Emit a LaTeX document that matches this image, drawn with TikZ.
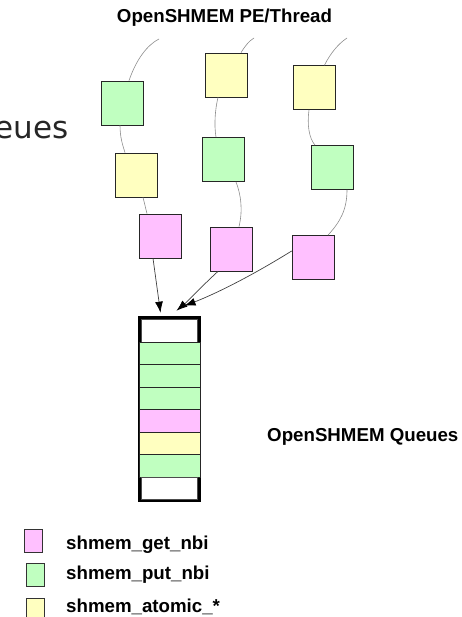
\documentclass[tikz,border=0pt]{standalone}
\usepackage{fontspec}
\setmainfont{Liberation Sans}
\newfontfamily\slidefont{DejaVu Sans}
\usetikzlibrary{arrows.meta}

\definecolor{getpink}{HTML}{FFC0FF}
\definecolor{putgreen}{HTML}{C0FFC0}
\definecolor{amoyellow}{HTML}{FFFFC0}

\tikzset{
	op/.style={draw=black!85, line width=0.7pt, minimum width=42pt, minimum height=44pt, inner sep=0pt},
	key/.style={draw=black!80, line width=0.7pt, minimum width=18pt, minimum height=23pt, inner sep=0pt},
	thread/.style={draw=black!45, line width=0.6pt},
	feed/.style={draw=black!75, line width=0.7pt, -{Latex[length=11pt,width=8pt,black]}},
	lbl/.style={font=\bfseries\fontsize{18.7}{21}\selectfont, inner sep=0pt},
}

\begin{document}
\begin{tikzpicture}[x=1pt, y=-1pt]
		%%%%% START %%%%%
		\useasboundingbox (0,0) rectangle (462,617);
		
		\node[lbl] (title) at (224.5,18) {OpenSHMEM PE/Thread};
		\node[font=\slidefont\fontsize{31}{34}\selectfont, anchor=base east, inner sep=0pt, text=black!85] (slide) at (69,139) {eues};
		
		% three threads, each issuing its operations
		\node[op, fill=putgreen] (g1) at (122.5,103) {};
		\node[op, fill=amoyellow] (y1) at (136,175) {};
		\node[op, fill=getpink] (p1) at (160,236) {};
		
		\node[op, fill=amoyellow] (y2) at (226,75) {};
		\node[op, fill=putgreen] (g2) at (223,159.5) {};
		\node[op, fill=getpink] (p2) at (231,249) {};
		
		\node[op, fill=amoyellow] (y3) at (314.5,87.5) {};
		\node[op, fill=putgreen] (g3) at (332.5,167.5) {};
		\node[op, fill=getpink] (p3) at (313,257.5) {};
		
		\coordinate (top1) at (159,39);
		\coordinate (top2) at (254,38);
		\coordinate (top3) at (347,38);
		
		\draw[thread] ([xshift=6.5pt]g1.north) .. controls (136,60) and (147,45) .. (top1);
		\draw[thread] ([xshift=15pt]y2.north) .. controls (245,46) and (249,41) .. (top2);
		\draw[thread] ([xshift=10pt]y3.north) .. controls (330,54) and (338,44) .. (top3);
		
		\draw[thread] ([xshift=-2.5pt]g1.south) .. controls (120,138) and (123,146) .. ([xshift=-11pt]y1.north);
		\draw[thread] ([xshift=7pt]y1.south) -- ([xshift=-13pt]p1.north);
		
		\draw[thread] ([xshift=-8pt]y2.south) .. controls (215,110) and (214,125) .. ([xshift=-7pt]g2.north);
		\draw[thread] ([xshift=13pt]g2.south) .. controls (241,195) and (243,210) .. ([xshift=8pt]p2.north);
		
		\draw[thread] ([xshift=-5.5pt]y3.south) .. controls (307,125) and (309,138) .. ([xshift=-17.5pt]g3.north);
		\draw[thread] ([xshift=14.5pt]g3.south) .. controls (347,210) and (340,222) .. ([xshift=15pt]p3.north);
		
		% the queue
		\node[draw=black, line width=3.6pt, fill=white, minimum width=60pt, minimum height=183pt, inner sep=0pt] (queue) at (169.5,409) {};
		\draw[black!70, line width=0.7pt] (141.5,319.5) rectangle (197.5,342);
		\foreach \c [count=\i from 0] in {putgreen,putgreen,putgreen,getpink,amoyellow,putgreen}
			\draw[black!85, line width=0.7pt, fill=\c] (139,{342+22.5*\i}) rectangle (200,{364.5+22.5*\i});
		\draw[black!70, line width=0.7pt] (141.5,477) rectangle (197.5,499);
		
		\draw[feed] ([xshift=-7pt]p1.south) -- ([xshift=-9pt, yshift=3pt]queue.north);
		\draw[feed] ([xshift=-13pt]p2.south) .. controls (200,288) and (188,301) .. ([xshift=7pt, yshift=5pt]queue.north);
		\draw[feed] ([yshift=6.5pt]p3.west) .. controls (240,283) and (205,298) .. ([xshift=15pt, yshift=10pt]queue.north);
		
		\node[lbl, anchor=west] (qname) at (267,437) {OpenSHMEM Queues};
		
		% legend
		\node[key, fill=getpink] (kget) at (33.5,540.5) {};
		\node[key, fill=putgreen] (kput) at (35.5,574.5) {};
		\node[key, fill=amoyellow] (katomic) at (35.5,609.5) {};
		\node[lbl, anchor=west] at (66,545) {shmem\_get\_nbi};
		\node[lbl, anchor=west] at (66,575) {shmem\_put\_nbi};
		\node[lbl, anchor=west] at (66,607) {shmem\_atomic\_*};
		
		%%%%% END %%%%%
	\end{tikzpicture}
\end{document}
